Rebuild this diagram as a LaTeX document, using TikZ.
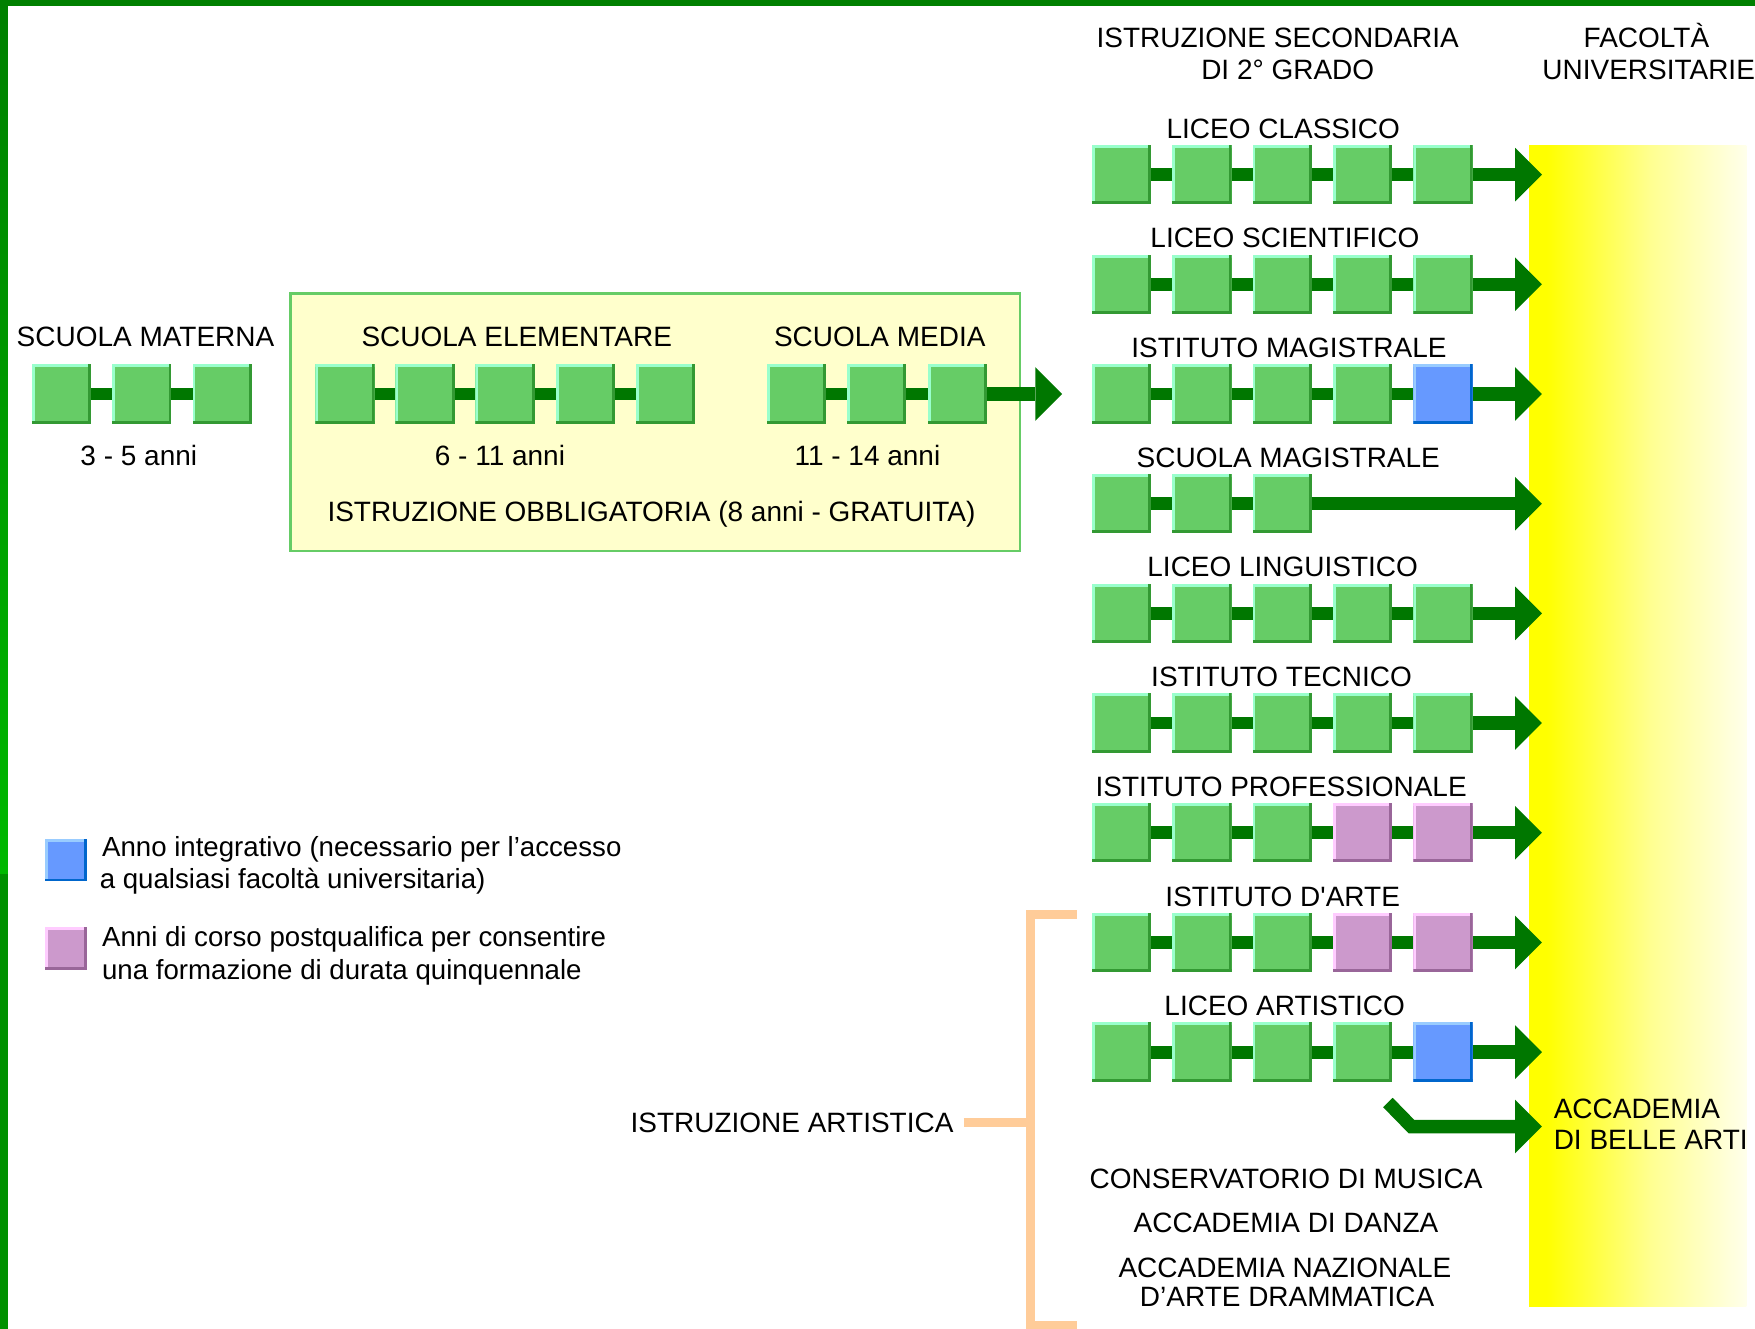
\documentclass[tikz,border=0pt]{standalone}
\usepackage{fontspec}
\setmainfont{Liberation Sans}
\usetikzlibrary{arrows.meta}
\definecolor{gF}{RGB}{102,204,102}
\definecolor{gL}{RGB}{153,255,204}
\definecolor{gD}{RGB}{51,153,51}
\definecolor{bF}{RGB}{102,153,255}
\definecolor{bL}{RGB}{153,204,255}
\definecolor{bD}{RGB}{0,102,204}
\definecolor{pF}{RGB}{204,153,204}
\definecolor{pL}{RGB}{255,204,255}
\definecolor{pD}{RGB}{153,102,153}
\definecolor{conn}{RGB}{0,119,0}
\definecolor{panel}{RGB}{255,255,204}
\definecolor{panelEdge}{RGB}{102,204,102}
\definecolor{peach}{RGB}{255,204,153}
\definecolor{frameA}{RGB}{0,128,0}
\definecolor{frameB}{RGB}{0,185,0}
\definecolor{frameC}{RGB}{0,145,0}
\definecolor{uniA}{RGB}{255,255,0}
\definecolor{uniB}{RGB}{255,255,145}
\definecolor{uniC}{RGB}{255,255,235}
\pgfdeclarehorizontalshading{uniband}{100bp}{color(0bp)=(uniA); color(25bp)=(uniA); color(29bp)=(uniA); color(53bp)=(uniB); color(75bp)=(uniC); color(100bp)=(uniC)}
\begin{document}
\begin{tikzpicture}[x=1pt,y=-1pt,
  yearbox/.style n args={3}{rectangle, inner sep=0pt, outer sep=0pt,
    minimum width=53pt, minimum height=53pt, fill=#1,
    path picture={
      \fill[#2] (path picture bounding box.south west) rectangle ([xshift=2.6pt]path picture bounding box.north west);
      \fill[#2] (path picture bounding box.north west) rectangle ([yshift=-2.6pt]path picture bounding box.north east);
      \fill[#3] (path picture bounding box.south east) rectangle ([xshift=-2.6pt]path picture bounding box.north east);
      \fill[#3] (path picture bounding box.south west) rectangle ([yshift=2.6pt]path picture bounding box.south east);
    }},
  gyr/.style={yearbox={gF}{gL}{gD}},
  byr/.style={yearbox={bF}{bL}{bD}},
  pyr/.style={yearbox={pF}{pL}{pD}},
  link/.style={draw=conn, line width=11.5pt},
  flow/.style={draw=conn, line width=12pt, -{Triangle[length=24pt,width=48pt,line width=0pt]}},
  lab/.style={anchor=base, inner sep=0pt, font=\fontsize{25}{28}\selectfont},
  labw/.style={anchor=base west, inner sep=0pt, font=\fontsize{25}{28}\selectfont},
  leg/.style={anchor=base west, inner sep=0pt, font=\fontsize{24.7}{28}\selectfont},
  bracket/.style={draw=peach, line width=8pt},
]
\useasboundingbox (0,0) rectangle (1568,1187);

% frame
\fill[frameA] (0,0) rectangle (1568,5.5);
\shade[top color=frameA, bottom color=frameB] (0,0) rectangle (7,781);
\fill[frameC] (0,781) rectangle (7,1187);

% university band
\node[anchor=north west, inner sep=0pt, minimum width=194pt, minimum height=1037pt,
      shading=uniband] (univ) at (1366,130) {};

% headers
\node[lab] (hsec1) at (1141.6,42.6) {ISTRUZIONE SECONDARIA};
\node[lab] (hsec2) at (1150.5,71) {DI 2° GRADO};
\node[lab] (hfac1) at (1471,42.6) {FACOLTÀ};
\node[lab] (hfac2) at (1473,71) {UNIVERSITARIE};

% compulsory panel
\node[draw=panelEdge, fill=panel, line width=2.5pt, anchor=north west,
      minimum width=652pt, minimum height=230pt, inner sep=0pt] (panel) at (258,261) {};

% scuola materna
\node[lab] (matlab) at (130,310) {SCUOLA MATERNA};
\foreach \k/\x in {1/55,2/126.7,3/198.5} \node[gyr] (m\k) at (\x,352) {};
\foreach \a/\b in {1/2,2/3} \draw[link] (m\a.east) -- (m\b.west);
\node[lab] (matage) at (124,416) {3 - 5 anni};

% scuola elementare
\node[lab] (elelab) at (461.7,309.7) {SCUOLA ELEMENTARE};
\foreach \k/\x in {1/308.2,2/379.8,3/451.3,4/523.2,5/594.7} \node[gyr] (e\k) at (\x,352) {};
\foreach \a/\b in {1/2,2/3,3/4,4/5} \draw[link] (e\a.east) -- (e\b.west);
\node[lab] (eleage) at (446.7,416) {6 - 11 anni};

% scuola media
\node[lab] (medlab) at (786,309.7) {SCUOLA MEDIA};
\foreach \k/\x in {1/711.5,2/783.2,3/855.5} \node[gyr] (d\k) at (\x,352) {};
\foreach \a/\b in {1/2,2/3} \draw[link] (d\a.east) -- (d\b.west);
\coordinate (medtip) at (949,352);
\draw[flow] (d3.east) -- (medtip);
\node[lab] (medage) at (775,416) {11 - 14 anni};
\node[lab] (oblig) at (582,466) {ISTRUZIONE OBBLIGATORIA (8 anni - GRATUITA)};

% secondary rows: labels and arrow tips
\foreach \r/\y/\lx/\txt in {1/156/1146.5/{LICEO CLASSICO},2/254/1148/{LICEO SCIENTIFICO},
  3/352/1151.6/{ISTITUTO MAGISTRALE},4/450/1151/{SCUOLA MAGISTRALE},5/548/1146/{LICEO LINGUISTICO},
  6/646/1145/{ISTITUTO TECNICO},7/744/1144.6/{ISTITUTO PROFESSIONALE},
  8/842/1146/{ISTITUTO D\textquotesingle ARTE},9/940/1147.8/{LICEO ARTISTICO}}
{
  \node[lab] (rl\r) at (\lx,\y-32.5) {\txt};
  \coordinate (tip\r) at (1377.6,\y);
}

% secondary rows: five-year tracks
\foreach \r/\y/\ya/\yb/\yc/\yd/\ye in {1/156/gyr/gyr/gyr/gyr/gyr,2/254/gyr/gyr/gyr/gyr/gyr,
  3/352/gyr/gyr/gyr/gyr/byr,5/548/gyr/gyr/gyr/gyr/gyr,6/646/gyr/gyr/gyr/gyr/gyr,
  7/744/gyr/gyr/gyr/pyr/pyr,8/842/gyr/gyr/gyr/pyr/pyr,9/940/gyr/gyr/gyr/gyr/byr}
{
  \node[\ya] (s\r-1) at (1002,\y) {};
  \node[\yb] (s\r-2) at (1073.8,\y) {};
  \node[\yc] (s\r-3) at (1145.6,\y) {};
  \node[\yd] (s\r-4) at (1217.4,\y) {};
  \node[\ye] (s\r-5) at (1289.2,\y) {};
  \foreach \a/\b in {1/2,2/3,3/4,4/5} \draw[link] (s\r-\a.east) -- (s\r-\b.west);
  \draw[flow] (s\r-5.east) -- (tip\r);
}

% scuola magistrale (three years)
\node[gyr] (s4-1) at (1002,450) {};
\node[gyr] (s4-2) at (1073.8,450) {};
\node[gyr] (s4-3) at (1145.6,450) {};
\foreach \a/\b in {1/2,2/3} \draw[link] (s4-\a.east) -- (s4-\b.west);
\draw[flow] (s4-3.east) -- (tip4);

% accademia di belle arti
\coordinate (accstart) at (1240,985);
\coordinate (accbend) at (1261,1006.5);
\coordinate (acctip) at (1377.6,1006.5);
\draw[flow] (accstart) -- (accbend) -- (acctip);
\node[labw] (acc1) at (1388,999) {ACCADEMIA};
\node[labw] (acc2) at (1388,1027) {DI BELLE ARTI};

% other artistic institutions
\node[lab] (cons) at (1149,1062) {CONSERVATORIO DI MUSICA};
\node[lab] (danza) at (1149,1101) {ACCADEMIA DI DANZA};
\node[lab] (naz1) at (1148,1141) {ACCADEMIA NAZIONALE};
\node[lab] (naz2) at (1150,1167) {D’ARTE DRAMMATICA};

% istruzione artistica bracket
\node[lab, inner xsep=9pt] (artlab) at (707.6,1011.6) {ISTRUZIONE ARTISTICA};
\coordinate (brtop) at (962,817);
\coordinate (brtopc) at (920.7,817);
\coordinate (brbotc) at (920.7,1184);
\coordinate (brbot) at (962,1184);
\draw[bracket] (brtop) -- (brtopc) -- (brbotc) -- (brbot);
\draw[bracket] (artlab.east) -- (artlab.east -| brtopc);

% legend
\node[byr, minimum width=38pt, minimum height=38pt] (legb) at (59,768.5) {};
\node[leg] (legb1) at (91,765) {Anno integrativo (necessario per l’accesso};
\node[leg] (legb2) at (89,794) {a qualsiasi facoltà universitaria)};
\node[pyr, minimum width=38pt, minimum height=38pt] (legp) at (59,847.5) {};
\node[leg] (legp1) at (91,846) {Anni di corso postqualifica per consentire};
\node[leg] (legp2) at (91,875) {una formazione di durata quinquennale};
\end{tikzpicture}
\end{document}
